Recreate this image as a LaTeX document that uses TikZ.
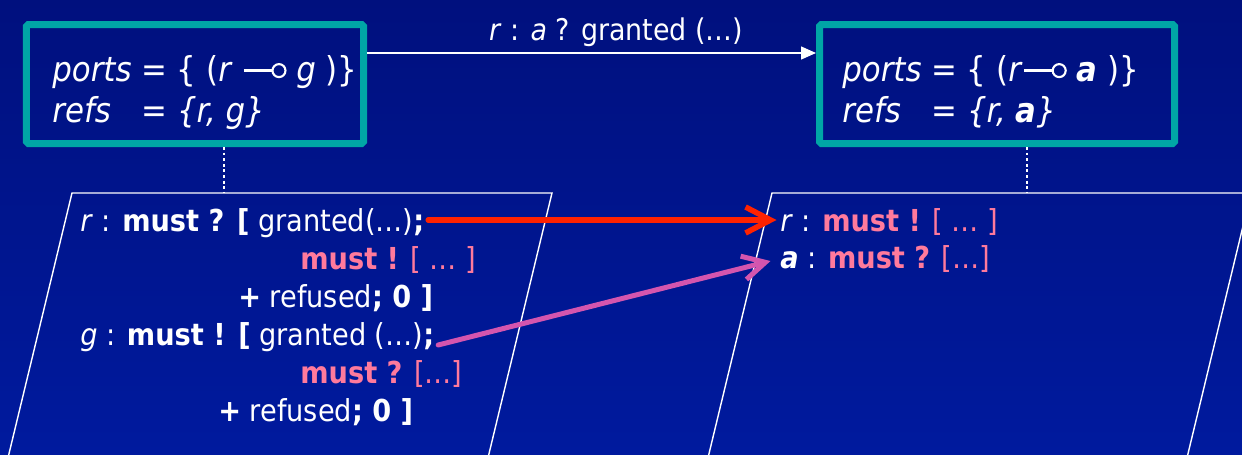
\documentclass[tikz,border=0pt]{standalone}
\usepackage{fontspec}
\setmainfont{DejaVu Sans Condensed}
\usetikzlibrary{arrows.meta}
\definecolor{NightBlue}{HTML}{00107E}
\definecolor{RoyalBlue}{HTML}{001A9E}
\definecolor{BoxTeal}{HTML}{00A6A6}
\definecolor{PinkText}{HTML}{FF7A9C}
\definecolor{SendRed}{HTML}{FF2200}
\definecolor{SendPink}{HTML}{D455AE}
\tikzset{
  statebox/.style={draw=BoxTeal, line width=0.14cm, rounded corners=1pt, minimum height=2.38cm, inner sep=0pt},
  statetext/.style={anchor=west, text=white, inner sep=0pt, font=\fontsize{19.5}{23.5}\selectfont},
  codeline/.style={anchor=base west, text=white, inner sep=2pt, font=\fontsize{17.2}{20}\selectfont},
  msglabel/.style={text=white, inner sep=3pt, font=\fontsize{17}{20}\selectfont},
  procframe/.style={draw=white, line width=0.8pt},
  linkline/.style={draw=white, line width=1.6pt, dash pattern=on 1.6pt off 1.6pt},
  msgarrow/.style={-{Triangle[length=0.3cm, width=0.26cm, fill=white]}, draw=white, line width=0.8pt},
  redarrow/.style={-{Straight Barb[length=0.5cm, width=0.52cm]}, draw=SendRed, line width=0.11cm, line cap=round},
  pinkarrow/.style={-{Straight Barb[length=0.45cm, width=0.48cm]}, draw=SendPink, line width=0.1cm, line cap=round}
}
\newcommand{\hl}[1]{\textcolor{PinkText}{#1}}
\newcommand{\lolli}{\tikz[baseline=-0.22cm]{\draw[white, line width=1.7pt] (0,0) -- (0.56,0);
  \draw[white, line width=1.2pt] (0.7,0) circle (0.13);}}

\begin{document}
\begin{tikzpicture}
\useasboundingbox (0,0) rectangle (24.84,9.08);
\fill[top color=NightBlue, bottom color=RoyalBlue] (0,0) rectangle (24.84,9.08);
\begin{scope}
\clip (0,0) rectangle (24.84,9.08);
\draw[procframe] (0.13,-0.2) -- (1.44,5.22) -- (11.04,5.22) -- (9.73,-0.2);
\draw[procframe] (14.13,-0.2) -- (15.44,5.22) -- (25.02,5.22) -- (23.71,-0.2);
\end{scope}
\coordinate (procL) at (4.48,5.22);
\coordinate (procR) at (20.54,5.22);
\node[statebox, minimum width=6.74cm] (stateL) at (3.90,7.40) {};
\node[statebox, minimum width=7.10cm] (stateR) at (19.94,7.40) {};
\node[statetext] (portsL) at (1.04,7.20) {\begin{tabular}{@{}l@{\ }l@{}}
\textit{ports} & = \{ (\textit{r} \lolli\ \textit{g} )\}\\
\textit{refs} & = \textit{\{r, g\}}
\end{tabular}};
\node[statetext] (portsR) at (16.84,7.20) {\begin{tabular}{@{}l@{\ }l@{}}
\textit{ports} & = \{ (\textit{r}\lolli\ \textbf{\textit{a}} )\}\\
\textit{refs} & = \textit{\{r, \textbf{a}\}}
\end{tabular}};
\draw[linkline] (stateL.south -| procL) -- (procL);
\draw[linkline] (stateR.south -| procR) -- (procR);
\draw[msgarrow] ([yshift=0.62cm]stateL.east) -- node[msglabel, above, pos=0.555] (msg) {\textit{r} : \textit{a} ? granted (…)} ([yshift=0.62cm]stateR.west);
\node[codeline] (l1) at (1.53,4.46) {\textit{r} : \textbf{must ? [} granted(…)\textbf{;}};
\node[codeline] (l2) at (5.93,3.70) {\hl{\textbf{must !} [ … ]}};
\node[codeline] (l3) at (4.69,2.94) {\textbf{+} refused\textbf{; 0 ]}};
\node[codeline] (l4) at (1.53,2.18) {\textit{g} : \textbf{must ! [} granted (…)\textbf{;}};
\node[codeline] (l5) at (5.93,1.42) {\hl{\textbf{must ?} […]}};
\node[codeline] (l6) at (4.29,0.66) {\textbf{+} refused\textbf{; 0 ]}};
\node[codeline] (r1) at (15.53,4.46) {\textit{r} : \hl{\textbf{must !} [ … ]}};
\node[codeline] (r2) at (15.53,3.72) {\textbf{\textit{a}} : \hl{\textbf{must ?} […]}};
\draw[redarrow] ([yshift=0.22cm]l1.base east) -- ([yshift=0.22cm]r1.base west);
\draw[pinkarrow] (l4.base east) -- ([yshift=0.14cm, xshift=-0.12cm]r2.base west);
\end{tikzpicture}
\end{document}
